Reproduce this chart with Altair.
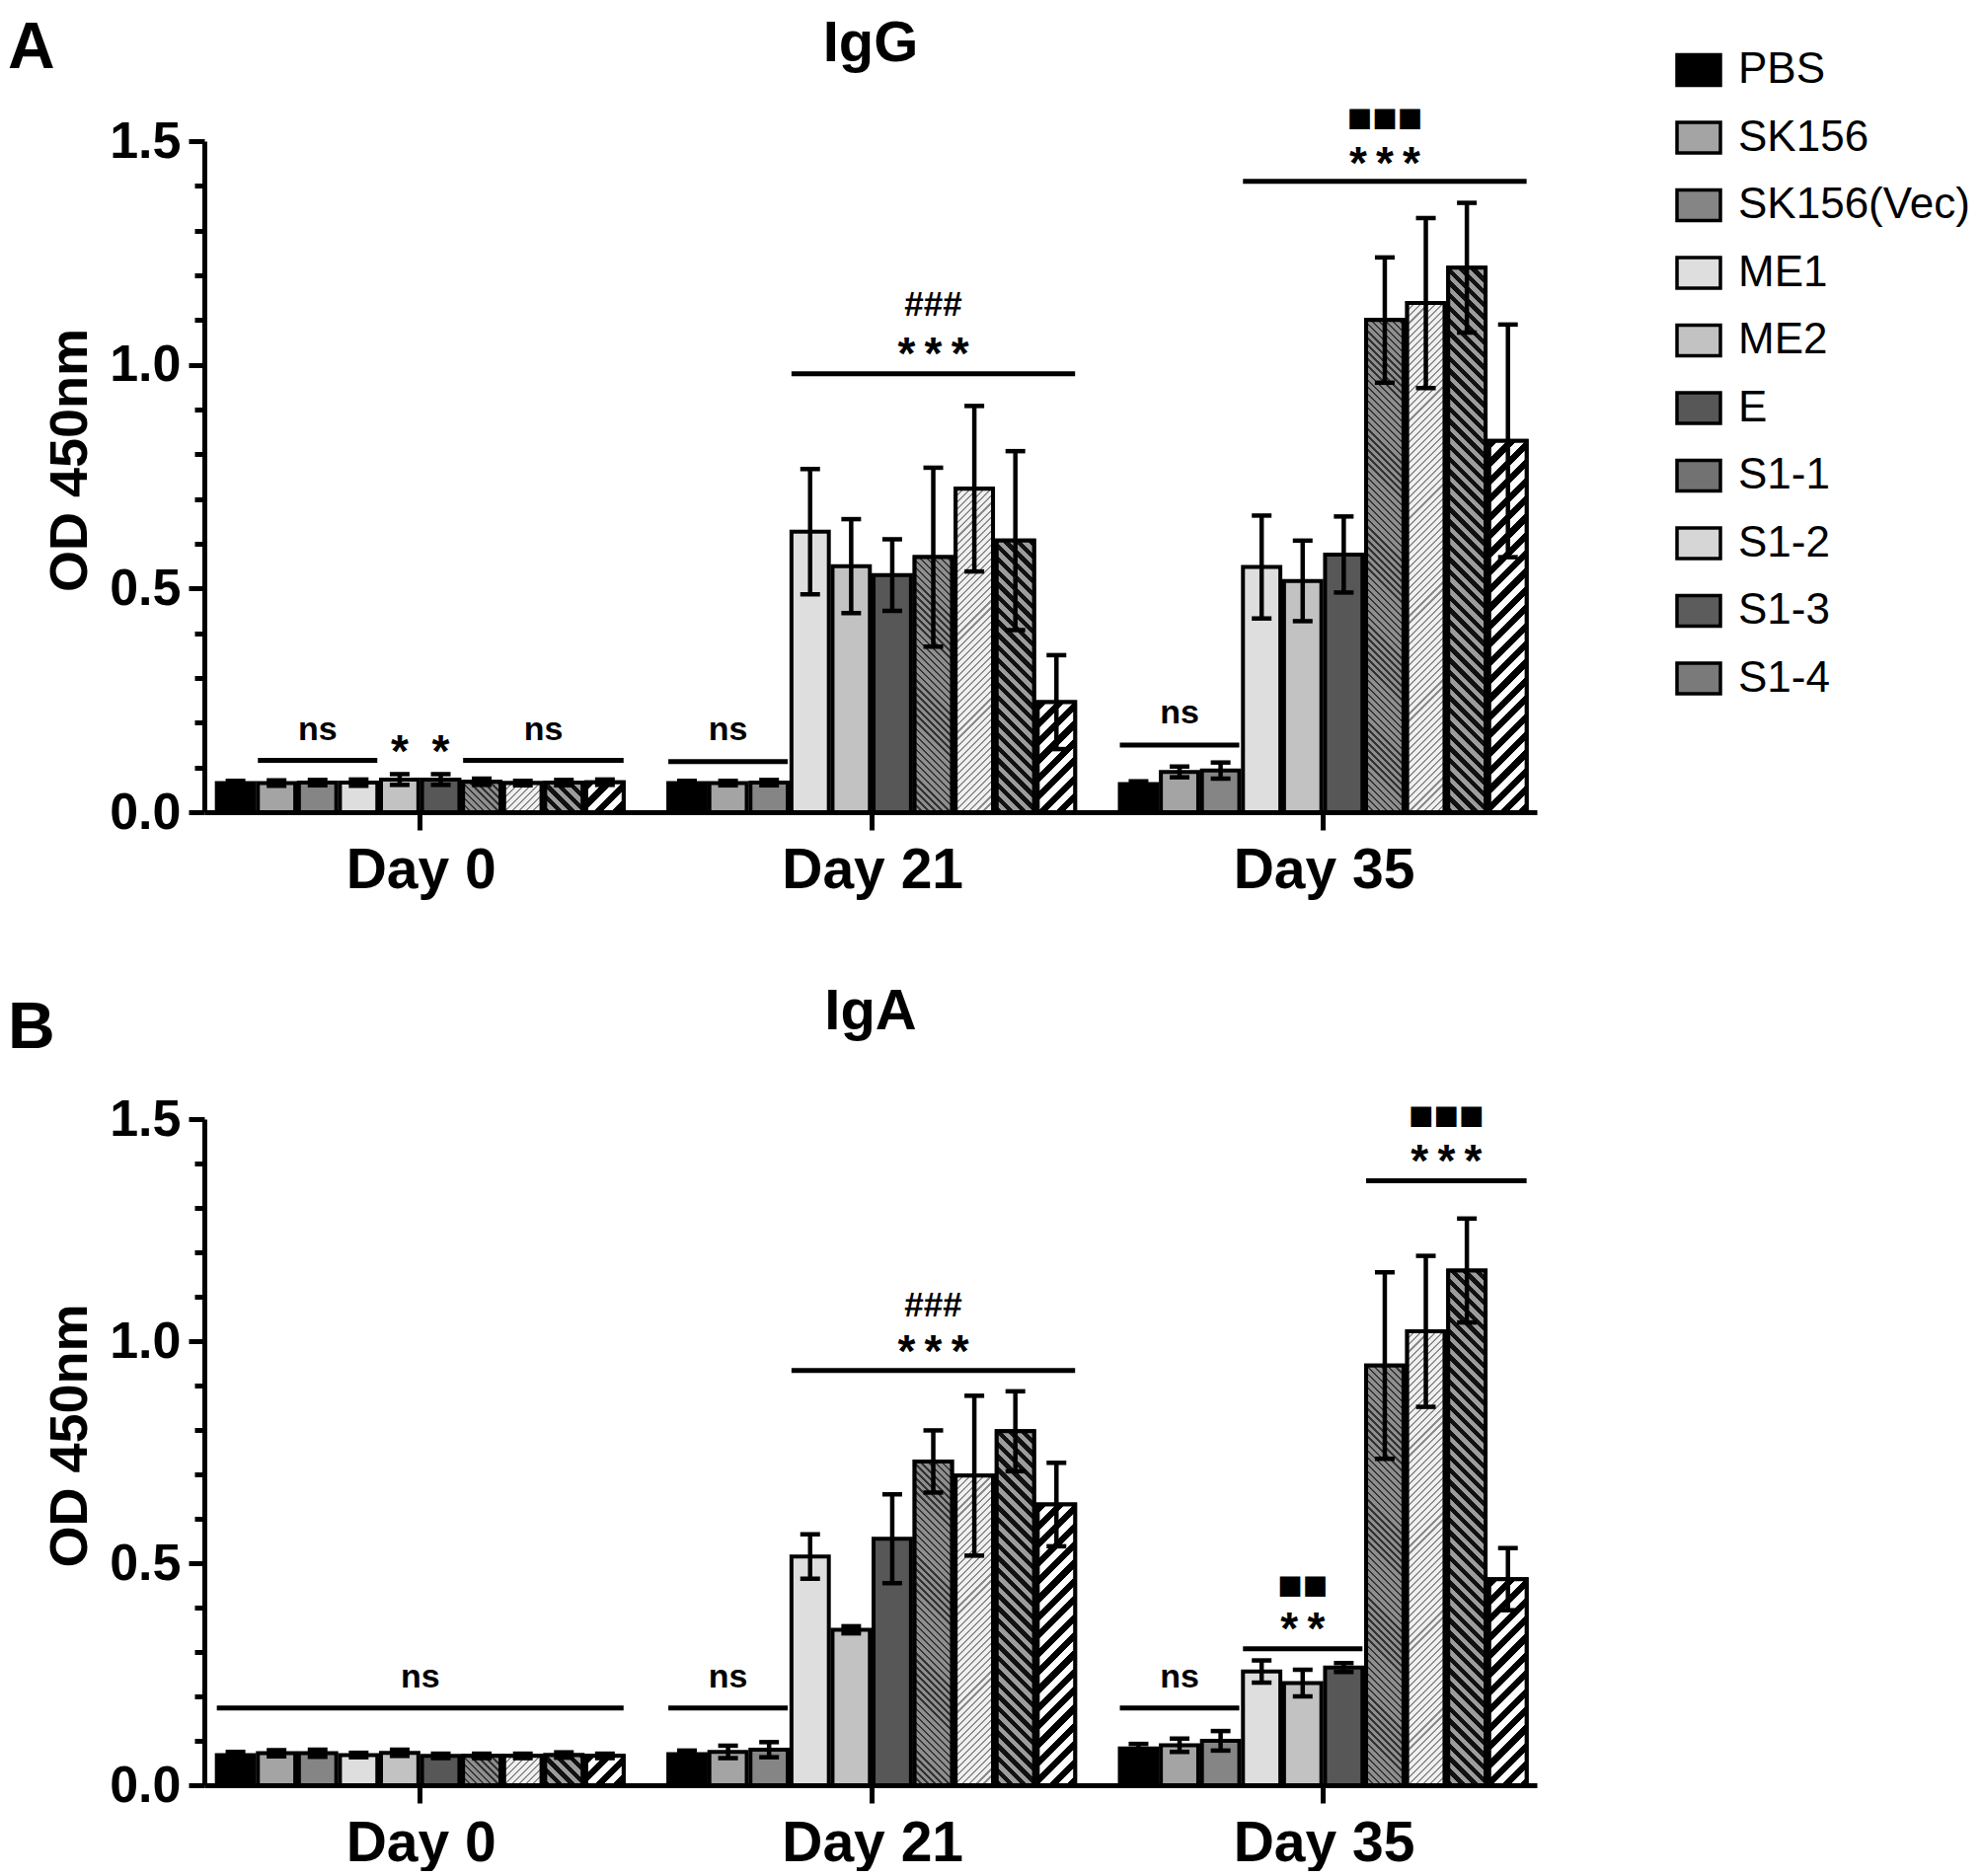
import math
import altair as alt
import pandas as pd

# ---------------- data ----------------
days = ["Day 0", "Day 21", "Day 35"]
series = ["PBS", "SK156", "SK156(Vec)", "ME1", "ME2", "E", "S1-1", "S1-2", "S1-3", "S1-4"]
series_fill = ["#000000", "#a4a4a4", "#858585", "#dedede", "#c2c2c2",
               "#575757", "#727272", "#d6d6d6", "#5c5c5c", "#7a7a7a"]

# IgG (panel A)
igg_d0 = [0.065, 0.065, 0.066, 0.066, 0.073, 0.073, 0.068, 0.065, 0.066, 0.067]
igg_d0_err = [0.005, 0.006, 0.006, 0.007, 0.012, 0.012, 0.007, 0.005, 0.006, 0.006]
igg_d21 = [0.065, 0.065, 0.066, 0.627, 0.550, 0.530, 0.570, 0.723, 0.607, 0.246]
igg_d21_err = [0.005, 0.005, 0.006, 0.140, 0.105, 0.080, 0.200, 0.185, 0.200, 0.105]
igg_d35 = [0.063, 0.090, 0.093, 0.548, 0.517, 0.576, 1.100, 1.138, 1.217, 0.830]
igg_d35_err = [0.006, 0.012, 0.018, 0.115, 0.090, 0.085, 0.140, 0.190, 0.145, 0.260]

# IgA (panel B)
iga_d0 = [0.068, 0.072, 0.072, 0.068, 0.073, 0.066, 0.066, 0.066, 0.068, 0.066]
iga_d0_err = [0.007, 0.007, 0.008, 0.005, 0.007, 0.005, 0.005, 0.005, 0.006, 0.005]
iga_d21 = [0.070, 0.075, 0.080, 0.515, 0.350, 0.555, 0.729, 0.697, 0.797, 0.632]
iga_d21_err = [0.008, 0.014, 0.017, 0.050, 0.008, 0.100, 0.070, 0.180, 0.090, 0.094]
iga_d35 = [0.083, 0.090, 0.100, 0.256, 0.230, 0.265, 0.945, 1.022, 1.159, 0.464]
iga_d35_err = [0.010, 0.015, 0.022, 0.025, 0.030, 0.010, 0.210, 0.170, 0.117, 0.070]

# significance bars (day, first group, last group, height)
igg_line_day = ["Day 0", "Day 0", "Day 21", "Day 21", "Day 35", "Day 35"]
igg_line_first = ["SK156", "S1-1", "PBS", "ME1", "PBS", "ME1"]
igg_line_last = ["ME1", "S1-4", "SK156(Vec)", "S1-4", "SK156(Vec)", "S1-4"]
igg_line_y = [0.116, 0.116, 0.113, 0.980, 0.150, 1.410]

igg_lab_day = ["Day 0", "Day 0", "Day 0", "Day 0", "Day 21", "Day 21", "Day 21", "Day 35", "Day 35", "Day 35"]
igg_lab_first = ["SK156", "ME2", "E", "S1-1", "PBS", "ME1", "ME1", "PBS", "ME1", "ME1"]
igg_lab_last = ["ME1", "ME2", "E", "S1-4", "SK156(Vec)", "S1-4", "S1-4", "SK156(Vec)", "S1-4", "S1-4"]
igg_lab_text = ["ns", "*", "*", "ns", "ns", "***", "###", "ns", "***", "■■■"]
igg_lab_y = [0.184, 0.147, 0.147, 0.184, 0.184, 1.037, 1.138, 0.220, 1.463, 1.551]

iga_line_day = ["Day 0", "Day 21", "Day 21", "Day 35", "Day 35", "Day 35"]
iga_line_first = ["PBS", "PBS", "ME1", "PBS", "ME1", "S1-1"]
iga_line_last = ["S1-4", "SK156(Vec)", "S1-4", "SK156(Vec)", "E", "S1-4"]
iga_line_y = [0.174, 0.174, 0.934, 0.174, 0.307, 1.361]

iga_lab_day = ["Day 0", "Day 21", "Day 21", "Day 21", "Day 35", "Day 35", "Day 35", "Day 35", "Day 35"]
iga_lab_first = ["PBS", "PBS", "ME1", "ME1", "PBS", "ME1", "ME1", "S1-1", "S1-1"]
iga_lab_last = ["S1-4", "SK156(Vec)", "S1-4", "S1-4", "SK156(Vec)", "E", "E", "S1-4", "S1-4"]
iga_lab_text = ["ns", "ns", "***", "###", "ns", "**", "■■", "***", "■■■"]
iga_lab_y = [0.242, 0.242, 0.990, 1.085, 0.242, 0.364, 0.450, 1.418, 1.506]

y_ticks = [round(i * 0.1, 1) for i in range(16)]

# ---------------- styling ----------------
FONT = "Liberation Sans"
PLOT_W = 1350
PAD_INNER = 0.09
PAD_OUTER = 0.277
Y_MAX = 1.5
SWATCH_W = 44.0
BAR_STROKE = 4

# hatch styles of the striped groups (direction, period px, ink share, ink, background)
stripe_style = {
    "S1-1": ("\\", 5.0, 0.35, "#333333", "#8e8e8e"),
    "S1-2": ("/", 5.0, 0.30, "#8c8c8c", "#f0f0f0"),
    "S1-3": ("\\", 9.0, 0.50, "#111111", "#9c9c9c"),
    "S1-4": ("/", 13.0, 0.50, "#000000", "#ffffff"),
}

x_domain = []
for i, d in enumerate(days):
    if i:
        x_domain.append(f"gap{i}")
    x_domain += [f"{d}|{s}" for s in series]

step = PLOT_W / (len(x_domain) - PAD_INNER + 2 * PAD_OUTER)
bar_w = step * (1 - PAD_INNER)
half_bar = bar_w / 2
band_pos = (1 - PAD_INNER / 2) / (1 - PAD_INNER)
gap_half = half_bar + step * PAD_INNER / 2

x_scale = alt.Scale(domain=x_domain, paddingInner=PAD_INNER, paddingOuter=PAD_OUTER, align=0.55)
y_scale = alt.Scale(domain=[0, Y_MAX], nice=False, zero=True)

major = "abs(datum.value*2 - round(datum.value*2)) < 0.001"


def stripe_gradient(name, w, h):
    """Diagonal hatch drawn as a hard-stop linear gradient (bounding-box units)."""
    direction, period, share, ink, bg = stripe_style[name]
    h = max(h, 1.0)
    span = w + h
    pitch = period * math.sqrt(2)
    a = w * span / (w * w + h * h)
    b = h * span / (w * w + h * h)
    if direction == "/":
        x1, y1, x2, y2 = 0, 0, a, b
    else:
        x1, y1, x2, y2 = 0, 1, a, 1 - b
    stops = []
    s = 0.0
    while s < span - 1e-6:
        e1 = min(s + share * pitch, span)
        e2 = min(s + pitch, span)
        stops += [(s, ink), (e1, ink), (e1, bg), (e2, bg)]
        s += pitch
    return {
        "gradient": "linear", "x1": x1, "y1": y1, "x2": x2, "y2": y2,
        "stops": [{"offset": round(o / span, 5), "color": c} for o, c in stops],
    }


def x_axis():
    return alt.Axis(
        values=[f"{d}|ME2" for d in days], bandPosition=band_pos,
        labelExpr="split(datum.label, '|')[0]", labelAngle=0, title=None,
        tickSize=18, tickWidth=5, tickColor="black", domainWidth=5, domainColor="black",
        labelFont=FONT, labelFontSize=57, labelFontWeight="bold", labelColor="black",
        labelPadding=13, labelLimit=600, grid=False, labelOverlap=False,
        labelOffset=gap_half + 1,
    )


def y_axis(height):
    return alt.Axis(
        values=y_ticks,
        labelExpr=f"{major} ? format(datum.value, '.1f') : ''",
        tickSize={"condition": {"test": major, "value": 16}, "value": 10},
        tickWidth=5, tickColor="black", domainWidth=5, domainColor="black",
        labelFont=FONT, labelFontSize=52, labelFontWeight="bold", labelColor="black",
        labelPadding=8, grid=False, title="OD 450nm", titleFont=FONT, titleFontSize=54,
        titleFontWeight="bold", titleColor="black", titlePadding=12,
        titleY=height / 2 - 17,
    )


def legend():
    return alt.Legend(
        title=None, orient="none", legendX=1490, legendY=-96,
        symbolType="M-1,-0.7H1V0.7H-1Z", symbolSize=SWATCH_W ** 2,
        symbolStrokeColor="black", symbolStrokeWidth=3.5, symbolOpacity=1,
        labelFont=FONT, labelFontSize=44, labelColor="black", labelOffset=16,
        labelLimit=600, rowPadding=21.5, padding=0,
    )


def bar_table(means, errs):
    rows = []
    for d, m, e in zip(days, means, errs):
        for s, v, er in zip(series, m, e):
            rows.append({"key": f"{d}|{s}", "series": s, "v": v, "e": er})
    return pd.DataFrame(rows)


def text_style(label):
    if "*" in label:
        return "\u2009".join(label), dict(fontSize=46, fontWeight="bold", font=FONT, dy=7)
    if "#" in label:
        return label, dict(fontSize=35, fontWeight="bold", font=FONT, dy=2)
    if "■" in label:
        return label, dict(fontSize=27, font="DejaVu Sans", dy=0)
    return label, dict(fontSize=34, fontWeight="bold", font=FONT, dy=0)


def panel(means, errs, l_day, l_first, l_last, l_y, t_day, t_first, t_last, t_text, t_y,
          height, title, title_y, letter, letter_y):
    df = bar_table(means, errs)
    base = alt.Chart(df)
    bars = base.mark_bar(stroke="black", strokeWidth=BAR_STROKE).encode(
        x=alt.X("key:N", scale=x_scale, axis=x_axis()),
        y=alt.Y("v:Q", scale=y_scale, axis=y_axis(height)),
        fill=alt.Fill("series:N", scale=alt.Scale(domain=series, range=series_fill), legend=legend()),
    )
    layers = [bars]

    # hatched fills of the striped groups
    for row in df.itertuples():
        if row.series in stripe_style:
            h_px = row.v / Y_MAX * height
            layers.append(
                alt.Chart(pd.DataFrame({"key": [row.key], "v": [row.v]})).mark_bar(
                    stroke="black", strokeWidth=BAR_STROKE,
                    fill=stripe_gradient(row.series, bar_w, h_px)).encode(
                    x=alt.X("key:N"), y=alt.Y("v:Q")))

    err = base.transform_calculate(lo="datum.v - datum.e", hi="datum.v + datum.e")
    layers.append(err.mark_rule(color="black", strokeWidth=4.5).encode(
        x=alt.X("key:N"), y=alt.Y("lo:Q"), y2="hi:Q"))
    layers.append(err.mark_tick(color="black", thickness=4.5, size=20, opacity=1).encode(
        x=alt.X("key:N"), y=alt.Y("hi:Q")))
    layers.append(err.mark_tick(color="black", thickness=4.5, size=20, opacity=1).encode(
        x=alt.X("key:N"), y=alt.Y("lo:Q")))

    lines = pd.DataFrame({
        "key": [f"{d}|{a}" for d, a in zip(l_day, l_first)],
        "key2": [f"{d}|{b}" for d, b in zip(l_day, l_last)],
        "ly": l_y,
    })
    layers.append(alt.Chart(lines).mark_rule(
        color="black", strokeWidth=5, xOffset=-half_bar, x2Offset=half_bar).encode(
        x=alt.X("key:N"), x2="key2:N", y=alt.Y("ly:Q")))

    for d, a, b, txt, ty in zip(t_day, t_first, t_last, t_text, t_y):
        i0, i1 = series.index(a), series.index(b)
        mid = (i0 + i1) // 2
        dx = gap_half if (i1 - i0) % 2 == 1 else 0
        shown, st = text_style(txt)
        tdf = pd.DataFrame({"key": [f"{d}|{series[mid]}"], "ty": [ty], "label": [shown]})
        layers.append(
            alt.Chart(tdf).mark_text(color="black", baseline="middle", align="center",
                                     dx=dx, **st).encode(
                x=alt.X("key:N"), y=alt.Y("ty:Q"), text="label:N"))

    layers.append(
        alt.Chart(pd.DataFrame({"t": [title]})).mark_text(
            font=FONT, fontSize=58, fontWeight="bold", color="black",
            align="center", baseline="alphabetic").encode(
            x=alt.value(PLOT_W / 2), y=alt.value(title_y), text="t:N"))
    layers.append(
        alt.Chart(pd.DataFrame({"t": [letter]})).mark_text(
            font=FONT, fontSize=66, fontWeight="bold", color="black",
            align="left", baseline="alphabetic").encode(
            x=alt.value(-199), y=alt.value(letter_y), text="t:N"))

    return alt.layer(*layers).properties(width=PLOT_W, height=height)


top = panel([igg_d0, igg_d21, igg_d35], [igg_d0_err, igg_d21_err, igg_d35_err],
            igg_line_day, igg_line_first, igg_line_last, igg_line_y,
            igg_lab_day, igg_lab_first, igg_lab_last, igg_lab_text, igg_lab_y,
            680, "IgG", -81, "A", -74)
bottom = panel([iga_d0, iga_d21, iga_d35], [iga_d0_err, iga_d21_err, iga_d35_err],
               iga_line_day, iga_line_first, iga_line_last, iga_line_y,
               iga_lab_day, iga_lab_first, iga_lab_last, iga_lab_text, iga_lab_y,
               675, "IgA", -91, "B", -72)

chart = (
    alt.vconcat(top, bottom, spacing=87)
    .resolve_scale(color="independent", x="independent", y="independent")
    .resolve_legend(color="independent")
    .properties(padding={"left": 0, "top": 8, "right": 0, "bottom": 0})
    .configure(font=FONT)
    .configure_view(stroke=None)
)

chart.save("out.html", embed_options={"renderer": "svg", "actions": False})
